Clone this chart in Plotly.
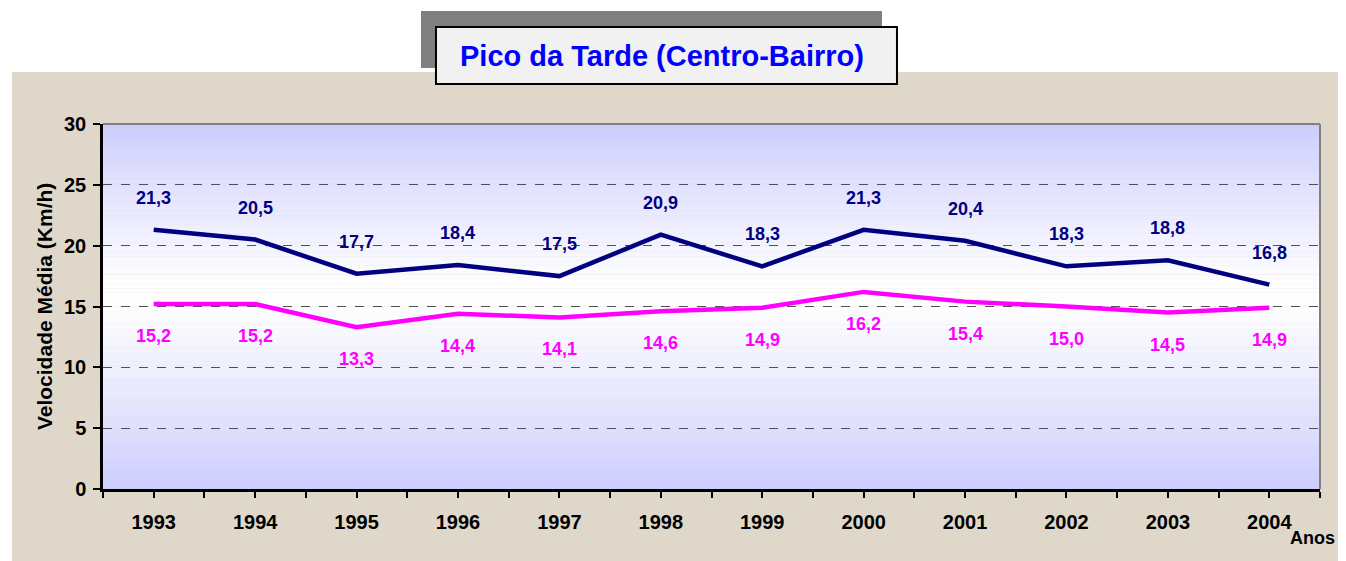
import plotly.graph_objects as go

years = ["1993", "1994", "1995", "1996", "1997", "1998", "1999", "2000", "2001", "2002", "2003", "2004"]
navy_vals = [21.3, 20.5, 17.7, 18.4, 17.5, 20.9, 18.3, 21.3, 20.4, 18.3, 18.8, 16.8]
magenta_vals = [15.2, 15.2, 13.3, 14.4, 14.1, 14.6, 14.9, 16.2, 15.4, 15.0, 14.5, 14.9]
y_ticks = [0, 5, 10, 15, 20, 25, 30]

NAVY = "#000080"
MAGENTA = "#FF00FF"
FONT = "Liberation Sans, Arial, sans-serif"

xs = list(range(len(years)))

def fmt(v):
    return f"{v:.1f}".replace(".", ",")

fig = go.Figure()
fig.add_trace(go.Scatter(x=xs, y=navy_vals, mode="lines", line=dict(color=NAVY, width=4.5), hoverinfo="skip"))
fig.add_trace(go.Scatter(x=xs, y=magenta_vals, mode="lines", line=dict(color=MAGENTA, width=4.5), hoverinfo="skip"))

annotations = []
for x, v in zip(xs, navy_vals):
    annotations.append(dict(x=x, y=v, xref="x", yref="y", text=fmt(v), showarrow=False, yshift=32,
                            xanchor="center", yanchor="middle",
                            font=dict(family=FONT, size=18, color=NAVY, weight="bold")))
for x, v in zip(xs, magenta_vals):
    annotations.append(dict(x=x, y=v, xref="x", yref="y", text=fmt(v), showarrow=False, yshift=-32,
                            xanchor="center", yanchor="middle",
                            font=dict(family=FONT, size=18, color=MAGENTA, weight="bold")))

# Title text
annotations.append(dict(x=0.459, y=1.186, xref="paper", yref="paper", text="Pico da Tarde (Centro-Bairro)",
                        xanchor="center", yanchor="middle",
                        showarrow=False, font=dict(family=FONT, size=29, color="#0000FF", weight="bold")))
# Axis titles
annotations.append(dict(x=-0.048, y=0.5, xref="paper", yref="paper", text="Velocidade Média (Km/h)",
                        xanchor="center", yanchor="middle",
                        textangle=-90, showarrow=False, font=dict(family=FONT, size=21, color="black", weight="bold")))
annotations.append(dict(x=0.9942, y=-0.134, xref="paper", yref="paper", text="Anos",
                        xanchor="center", yanchor="middle",
                        showarrow=False, font=dict(family=FONT, size=18, color="black", weight="bold")))

shapes = []
# beige background
shapes.append(dict(type="rect", xref="paper", yref="paper", x0=-0.0748, x1=1.05, y0=-0.25, y1=1.1425,
                   fillcolor="#DFD8CA", line=dict(width=0), layer="below"))
# gradient plot area
top = (204, 204, 255)
mid = (255, 255, 255)
center = 16.0
n = 80
for i in range(n):
    y0 = 30 * i / n
    y1 = 30 * (i + 1) / n
    yc = (y0 + y1) / 2
    if yc < center:
        t = (center - yc) / center
    else:
        t = (yc - center) / (30 - center)
    t = min(max(t, 0), 1) ** 1.2
    c = tuple(int(round(mid[k] + (top[k] - mid[k]) * t)) for k in range(3))
    shapes.append(dict(type="rect", xref="x domain", yref="y", x0=0, x1=1, y0=y0, y1=y1 + 0.01,
                       fillcolor=f"rgb{c}", line=dict(width=0), layer="below"))
# plot border (top, right) gray
shapes.append(dict(type="line", xref="x domain", yref="y domain", x0=0, x1=1, y0=1, y1=1,
                   line=dict(color="#808080", width=2), layer="below"))
shapes.append(dict(type="line", xref="x domain", yref="y domain", x0=1, x1=1, y0=0, y1=1,
                   line=dict(color="#808080", width=2), layer="below"))
# title shadow and box
shapes.append(dict(type="rect", xref="paper", yref="paper", x0=0.2613, x1=0.6401, y0=1.1534, y1=1.3096,
                   fillcolor="#808080", line=dict(width=0), layer="below"))
shapes.append(dict(type="rect", xref="paper", yref="paper", x0=0.2736, x1=0.6524, y0=1.1096, y1=1.2658,
                   fillcolor="#F1F1F1", line=dict(color="black", width=2), layer="below"))

fig.update_layout(
    width=1338, height=553,
    margin=dict(l=95, r=26, t=116, b=72),
    paper_bgcolor="white",
    plot_bgcolor="rgba(0,0,0,0)",
    showlegend=False,
    shapes=shapes,
    annotations=annotations,
    font=dict(family=FONT, color="black"),
)
fig.update_xaxes(
    range=[-0.5, 11.5], tickmode="array", tickvals=xs, ticktext=years,
    showgrid=False, zeroline=False,
    showline=True, linecolor="black", linewidth=2.5,
    ticks="outside", ticklen=6, tickwidth=2, tickcolor="black",
    ticklabelstandoff=7,
    tickfont=dict(family=FONT, size=20, color="black", weight="bold"),
    minor=dict(tickmode="linear", tick0=-0.5, dtick=0.5, ticks="outside", ticklen=6, tickwidth=2,
               tickcolor="black", showgrid=False),
)
fig.update_yaxes(
    range=[0, 30], tickmode="array", tickvals=y_ticks,
    showgrid=True, gridcolor="#505050", gridwidth=1, griddash="dash",
    zeroline=False,
    showline=True, linecolor="black", linewidth=2.5,
    ticks="outside", ticklen=7, tickwidth=2, tickcolor="black",
    ticklabelstandoff=3,
    tickfont=dict(family=FONT, size=20, color="black", weight="bold"),
)

fig.write_html("out.html")
